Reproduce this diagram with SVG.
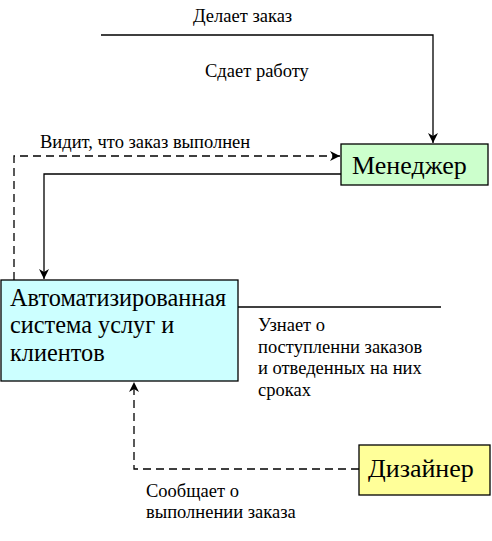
<svg xmlns="http://www.w3.org/2000/svg" width="492" height="541" viewBox="0 0 492 541">
<style>
.lbl{font-family:'Liberation Serif','Times New Roman',serif;font-size:18.5px;fill:#000}
.nt{font-family:'Liberation Serif','Times New Roman',serif;font-size:26px;fill:#000}
.nt2{font-family:'Liberation Serif','Times New Roman',serif;font-size:24.3px;fill:#000}
.box{stroke:#000;stroke-width:1.3}
.ln{fill:none;stroke:#000;stroke-width:1.3}
.dash{stroke-dasharray:8 5}
</style>
<defs>
<marker id="arr" viewBox="0 0 10 10" refX="10" refY="5" markerWidth="10" markerHeight="10" markerUnits="userSpaceOnUse" orient="auto">
<path d="M0,0 L10,5 L0,10 L3,5 Z" fill="#000"/>
</marker>
</defs>
<rect width="492" height="541" fill="#fff"/>
<g id="connectors">
<polyline class="ln" points="101,35 433,35 433,143" marker-end="url(#arr)"/>
<polyline class="ln dash" points="14,280 14,156 340,156" marker-end="url(#arr)"/>
<polyline class="ln" points="341,174 44,174 44,279" marker-end="url(#arr)"/>
<line class="ln" x1="238" y1="307" x2="441" y2="307"/>
<polyline class="ln dash" points="359,469 134,469 134,382" marker-end="url(#arr)"/>
</g>
<g id="labels">
<text class="lbl" x="193" y="22">Делает заказ</text>
<text class="lbl" x="205" y="77">Сдает работу</text>
<text class="lbl" x="40" y="148">Видит, что заказ выполнен</text>
<text class="lbl" x="258" y="331">Узнает о</text>
<text class="lbl" x="258" y="353">поступленни заказов</text>
<text class="lbl" x="258" y="374">и отведенных на них</text>
<text class="lbl" x="258" y="396">сроках</text>
<text class="lbl" x="146" y="497">Сообщает о</text>
<text class="lbl" x="146" y="518">выполнении заказа</text>
</g>
<g id="manager">
<rect class="box" x="341" y="144" width="147" height="41" fill="#ccffcc"/>
<text class="nt" x="352" y="174">Менеджер</text>
</g>
<g id="system">
<rect class="box" x="1" y="280" width="237" height="101" fill="#ccffff"/>
<text class="nt2" x="10" y="306">Автоматизированная</text>
<text class="nt2" x="10" y="333">система услуг и</text>
<text class="nt2" x="10" y="361">клиентов</text>
</g>
<g id="designer">
<rect class="box" x="359" y="445" width="131" height="50" fill="#ffff99"/>
<text class="nt" x="368" y="477">Дизайнер</text>
</g>
</svg>
